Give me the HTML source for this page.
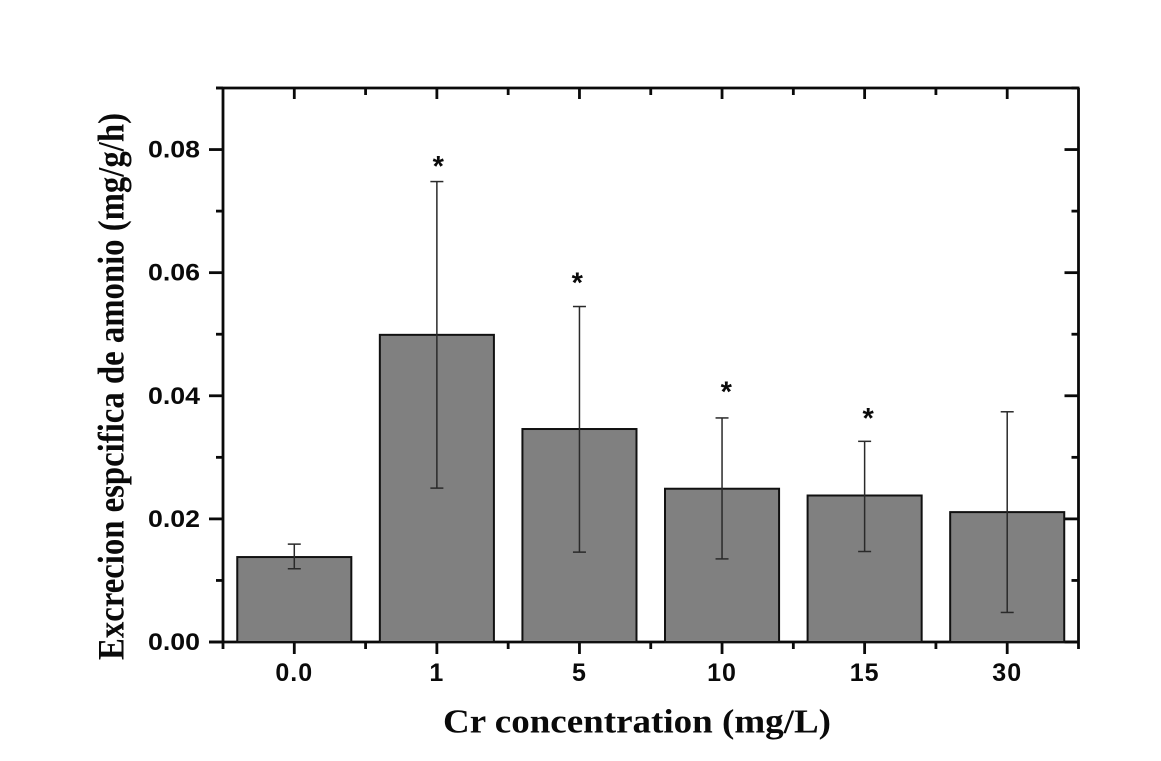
<!DOCTYPE html>
<html lang="es">
<head>
<meta charset="utf-8">
<title>Excrecion especifica de amonio</title>
<style>
html,body{margin:0;padding:0;background:#fff;width:1161px;height:761px;overflow:hidden}
svg{display:block}
.tick-label{font-family:"Liberation Sans",Arial,sans-serif;font-weight:bold;font-size:24px;fill:#0a0a0a}
.x-label{font-size:25px}
.axis-title{font-family:"Liberation Serif","Times New Roman",serif;font-weight:bold;fill:#0a0a0a}
.star{font-family:"Liberation Sans",Arial,sans-serif;font-weight:bold;font-size:29px;fill:#0a0a0a}
</style>
</head>
<body>
<svg id="chart" width="1161" height="761" viewBox="0 0 1161 761" xmlns="http://www.w3.org/2000/svg">
<rect x="0" y="0" width="1161" height="761" fill="#ffffff"/>
<text class="axis-title" x="443" y="732.5" font-size="34" textLength="388" lengthAdjust="spacingAndGlyphs">Cr concentration (mg/L)</text>
<text class="axis-title" transform="translate(123.5 660) rotate(-90)" font-size="37" textLength="547" lengthAdjust="spacingAndGlyphs">Excrecion espcifica de amonio (mg/g/h)</text>
</svg>
<script>
const categories = ['0.0', '1', '5', '10', '15', '30'];
const barValues = [0.0138, 0.0499, 0.0346, 0.0249, 0.0238, 0.0211];
const errorUpper = [0.0159, 0.0748, 0.0545, 0.0364, 0.0326, 0.0374];
const errorLower = [0.0119, 0.0250, 0.0146, 0.0135, 0.0147, 0.0048];
const starCategories = [1.01, 1.985, 3.03, 4.025];
const starLevels = [0.0757, 0.0568, 0.0391, 0.0348];
const yMajorTicks = [0, 0.02, 0.04, 0.06, 0.08];
const yMinorTicks = [0.01, 0.03, 0.05, 0.07, 0.09];

const svgNS = 'http://www.w3.org/2000/svg';
const chart = document.getElementById('chart');
const plotLeft = 223, plotRight = 1078.5, plotTop = 88, plotBottom = 642;
const yMax = 0.09;
const step = (plotRight - plotLeft) / categories.length;
const xScale = i => plotLeft + step * (i + 0.5);
const yScale = v => plotBottom - (v / yMax) * (plotBottom - plotTop);

function make(tag, attrs) {
  const el = document.createElementNS(svgNS, tag);
  for (const k in attrs) el.setAttribute(k, attrs[k]);
  chart.appendChild(el);
  return el;
}
function line(x1, y1, x2, y2, color, width) {
  return make('line', {x1, y1, x2, y2, stroke: color, 'stroke-width': width});
}

const axisColor = '#0a0a0a';
const axisWidth = 2.8;

// frame
let el = line(plotLeft, plotTop, plotLeft, plotBottom + 7, axisColor, axisWidth);


el = line(plotRight, plotTop, plotRight, plotBottom + 7, axisColor, axisWidth);


el = line(plotLeft - 7, plotTop, plotRight + 1, plotTop, axisColor, axisWidth);


el = line(plotLeft - 14, plotBottom, plotRight + 1, plotBottom, axisColor, axisWidth);



// y ticks
yMajorTicks.forEach(v => {
  const y = yScale(v);
  let t = line(plotLeft - 14, y, plotLeft, y, axisColor, axisWidth);
  
  
  t = line(plotRight - 14, y, plotRight, y, axisColor, axisWidth);
  
  
  const label = make('text', {x: plotLeft - 23, y: y + 8, 'text-anchor': 'end', 'class': 'tick-label', textLength: 52, lengthAdjust: 'spacingAndGlyphs'});
  label.textContent = v.toFixed(2);
  
  
});
yMinorTicks.forEach(v => {
  const y = yScale(v);
  let t = line(plotLeft - 7, y, plotLeft, y, axisColor, axisWidth);
  
  
  t = line(plotRight - 7, y, plotRight, y, axisColor, axisWidth);
  
  
});

// x ticks
categories.forEach((c, i) => {
  const x = xScale(i);
  let t = line(x, plotBottom, x, plotBottom + 12, axisColor, axisWidth);
  
  
  t = line(x, plotTop, x, plotTop + 11, axisColor, axisWidth);
  
  
  if (i > 0) {
    const mx = x - step / 2;
    t = line(mx, plotBottom, mx, plotBottom + 7, axisColor, axisWidth);
    
    
    t = line(mx, plotTop, mx, plotTop + 7, axisColor, axisWidth);
    
    
  }
  const label = make('text', {x: x, y: plotBottom + 39, 'text-anchor': 'middle', 'class': 'tick-label x-label', 'letter-spacing': '1'});
  label.textContent = c;
  
  
});

// bars
const barWidth = step * 0.8;
barValues.forEach((v, i) => {
  const bar = make('rect', {
    x: xScale(i) - barWidth / 2,
    y: yScale(v),
    width: barWidth,
    height: plotBottom - yScale(v),
    fill: '#808080',
    stroke: '#111111',
    'stroke-width': 2
  });
  
  
});

// error bars
const capHalf = 6.5;
categories.forEach((c, i) => {
  const x = xScale(i);
  const top = yScale(errorUpper[i]);
  const bottom = yScale(errorLower[i]);
  let e = line(x, top, x, bottom, '#2a2a2a', 1.5);
  
  
  e = line(x - capHalf, top, x + capHalf, top, '#2a2a2a', 1.5);
  
  
  e = line(x - capHalf, bottom, x + capHalf, bottom, '#2a2a2a', 1.5);
  
  
});

// significance markers
starCategories.forEach((c, i) => {
  const s = make('text', {x: xScale(c), y: yScale(starLevels[i]), 'text-anchor': 'middle', 'class': 'star'});
  s.textContent = '*';
  
  
});
</script>
</body>
</html>
